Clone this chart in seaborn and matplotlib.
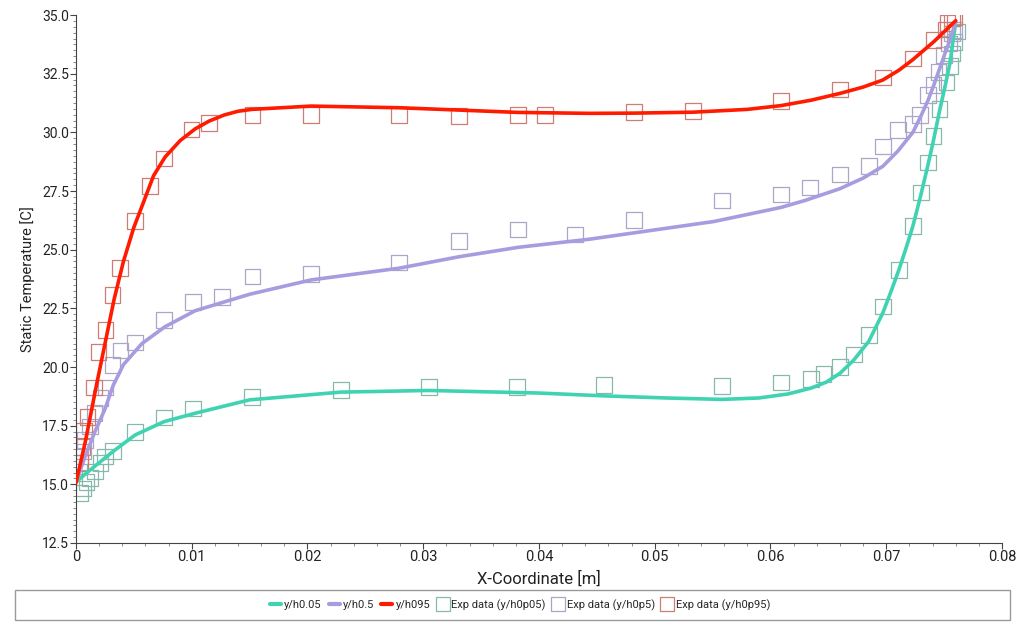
import numpy as np
import pandas as pd
import seaborn as sns
import matplotlib
matplotlib.use("Agg")
import matplotlib.pyplot as plt
from matplotlib.patches import Rectangle
from matplotlib.ticker import MultipleLocator, FuncFormatter
from matplotlib.lines import Line2D

# ---- simulation lines ----
red_x = [0, 0.0008, 0.0018, 0.0033, 0.0041, 0.0050, 0.0058, 0.0067, 0.0077, 0.0090, 0.0103, 0.0115, 0.0128,
         0.0140, 0.0152, 0.0203, 0.0279, 0.0331, 0.0382, 0.0444, 0.0482, 0.0533, 0.0580, 0.0609, 0.0635, 0.0660,
         0.0680, 0.0697, 0.0711, 0.0723, 0.0741, 0.0760]
red_y = [15.06, 16.8, 19.3, 22.9, 24.5, 25.95, 26.98, 28.15, 28.95, 29.65, 30.15, 30.48, 30.74,
         30.9, 30.98, 31.12, 31.05, 30.95, 30.85, 30.81, 30.82, 30.86, 30.98, 31.14, 31.37, 31.66,
         31.93, 32.23, 32.65, 33.1, 33.86, 34.76]

pur_x = [0, 0.0008, 0.0016, 0.0025, 0.0032, 0.0041, 0.0057, 0.0077, 0.0103, 0.0150, 0.0203, 0.0279,
         0.0331, 0.0382, 0.0444, 0.0551, 0.0609, 0.0630, 0.0660, 0.0680, 0.0697, 0.0710, 0.0723, 0.0730,
         0.0736, 0.0741, 0.0746, 0.0751, 0.0755, 0.0760]
pur_y = [15.1, 16.2, 17.2, 18.2, 19.2, 20.1, 21.0, 21.72, 22.4, 23.1, 23.71, 24.21,
         24.7, 25.1, 25.45, 26.2, 26.8, 27.1, 27.6, 28.05, 28.55, 29.2, 30.0, 30.7,
         31.35, 32.0, 32.7, 33.4, 33.93, 34.71]

teal_x = [0, 0.0012, 0.0032, 0.0051, 0.0076, 0.0103, 0.0150, 0.0229, 0.0305, 0.0400, 0.0456, 0.0510,
          0.0558, 0.0590, 0.0615, 0.0635, 0.0648, 0.0660, 0.0672, 0.0685, 0.0697, 0.0704, 0.0711, 0.0717,
          0.0723, 0.0730, 0.0736, 0.0741, 0.0746, 0.0751, 0.0755, 0.0760]
teal_y = [15.1, 15.6, 16.4, 17.1, 17.67, 18.03, 18.6, 18.93, 19.0, 18.89, 18.77, 18.68,
          18.62, 18.68, 18.85, 19.1, 19.35, 19.73, 20.3, 21.1, 22.3, 23.2, 24.15, 25.05,
          26.0, 27.35, 28.6, 29.7, 30.9, 32.0, 32.94, 34.71]

# ---- experimental data ----
exp95_x = [0.00035, 0.0005, 0.0007, 0.00098, 0.00156, 0.00196, 0.00257, 0.00317, 0.0038, 0.0051, 0.0064,
           0.0076, 0.0100, 0.01149, 0.01523, 0.0203, 0.0279, 0.0331, 0.0382, 0.0405, 0.0482, 0.0533,
           0.0609, 0.0660, 0.0697, 0.0723, 0.0741, 0.0751, 0.0753, 0.0757, 0.0759]
exp95_y = [15.91, 16.6, 17.29, 17.86, 19.13, 20.63, 21.58, 23.07, 24.21, 26.23, 27.71,
           28.89, 30.13, 30.41, 30.74, 30.74, 30.74, 30.70, 30.74, 30.73, 30.87, 30.91,
           31.34, 31.83, 32.33, 33.15, 33.93, 34.39, 34.65, 34.86, 34.9]

exp5_x = [0.00035, 0.00063, 0.00078, 0.0012, 0.00158, 0.0021, 0.00257, 0.00317, 0.00386, 0.0051, 0.0076,
          0.0101, 0.0126, 0.01523, 0.0203, 0.0279, 0.0331, 0.0382, 0.0431, 0.0482, 0.0558, 0.0609,
          0.0634, 0.0660, 0.0685, 0.0697, 0.0710, 0.0723, 0.0729, 0.0736, 0.0741, 0.0745, 0.0750,
          0.0754, 0.0757, 0.0759]
exp5_y = [16.18, 16.39, 16.89, 17.46, 18.03, 18.67, 19.13, 20.09, 20.7, 21.04, 22.0,
          22.78, 22.98, 23.85, 23.96, 24.46, 25.37, 25.87, 25.65, 26.26, 27.09, 27.36,
          27.66, 28.21, 28.57, 29.39, 30.1, 30.36, 30.74, 31.59, 32.02, 32.58, 33.3,
          33.79, 34.22, 34.36]

exp05_x = [0.00035, 0.00063, 0.00092, 0.0012, 0.00164, 0.0021, 0.0025, 0.0032, 0.0051, 0.0076, 0.0101,
           0.0152, 0.0229, 0.0305, 0.0381, 0.0456, 0.0558, 0.0609, 0.0635, 0.0646, 0.0660, 0.0672,
           0.0685, 0.0697, 0.0711, 0.0723, 0.0730, 0.0736, 0.0741, 0.0746, 0.0752, 0.0755, 0.0757,
           0.0759, 0.0761]
exp05_y = [14.62, 14.83, 15.11, 15.26, 15.54, 15.9, 16.18, 16.43, 17.22, 17.84, 18.24,
           18.72, 19.02, 19.15, 19.15, 19.23, 19.19, 19.33, 19.48, 19.7, 20.01, 20.54,
           21.36, 22.57, 24.13, 26.01, 27.43, 28.71, 29.84, 30.99, 32.12, 32.83, 33.37,
           33.86, 34.29]

line_labels = ["y/h0.05", "y/h0.5", "y/h095"]
exp_labels = ["Exp data (y/h0p05)", "Exp data (y/h0p5)", "Exp data (y/h0p95)"]

line_colors = ["#3fd3b2", "#a99be0", "#ff1a00"]
exp_colors = ["#86b9ac", "#aaa6c6", "#cd7d74"]

sns.set_theme(style="white")
plt.rcParams["font.family"] = ["Roboto", "DejaVu Sans"]

fig = plt.figure(figsize=(10.24, 6.27), dpi=100)
ax = fig.add_axes([0.0742, 0.134, 0.9043, 0.842])

lines_df = pd.concat([
    pd.DataFrame({"x": teal_x, "y": teal_y, "s": line_labels[0]}),
    pd.DataFrame({"x": pur_x, "y": pur_y, "s": line_labels[1]}),
    pd.DataFrame({"x": red_x, "y": red_y, "s": line_labels[2]}),
])
exp_df = pd.concat([
    pd.DataFrame({"x": exp05_x, "y": exp05_y, "s": exp_labels[0]}),
    pd.DataFrame({"x": exp5_x, "y": exp5_y, "s": exp_labels[1]}),
    pd.DataFrame({"x": exp95_x, "y": exp95_y, "s": exp_labels[2]}),
])

for lab, col in zip(exp_labels, exp_colors):
    d = exp_df[exp_df.s == lab]
    ax.scatter(d.x, d.y, marker="s", s=125, facecolors="none", edgecolors=col,
               linewidths=0.9, zorder=2)

sns.lineplot(data=lines_df, x="x", y="y", hue="s", palette=dict(zip(line_labels, line_colors)),
             sort=False, estimator=None, linewidth=2.6, ax=ax, legend=False, zorder=3)

ax.set_xlim(0, 0.08)
ax.set_ylim(12.5, 35)
ax.xaxis.set_major_locator(MultipleLocator(0.01))
ax.xaxis.set_minor_locator(MultipleLocator(0.002))
ax.yaxis.set_major_locator(MultipleLocator(2.5))
ax.yaxis.set_minor_locator(MultipleLocator(0.25))
ax.xaxis.set_major_formatter(FuncFormatter(lambda v, p: "0" if abs(v) < 1e-12 else f"{v:.2f}"))
ax.yaxis.set_major_formatter(FuncFormatter(lambda v, p: f"{v:.1f}"))

for side in ["top", "right"]:
    ax.spines[side].set_visible(False)
for side in ["left", "bottom"]:
    ax.spines[side].set_color("#444444")
    ax.spines[side].set_linewidth(0.8)

ax.tick_params(axis="both", which="both", bottom=True, left=True, top=False, right=False)
ax.tick_params(axis="both", which="major", direction="out", length=4, width=0.8, color="#444444",
               labelsize=10, labelcolor="#222222", pad=1)
ax.tick_params(axis="x", which="major", labelsize=10.5)
ax.tick_params(axis="both", which="minor", direction="out", length=2, width=0.6, color="#777777")

ax.set_xlabel("X-Coordinate [m]", fontsize=12, color="#222222", labelpad=5)
ax.set_ylabel("Static Temperature [C]", fontsize=10.5, color="#222222", labelpad=5)

# legend box
fig.patches.append(Rectangle((0.0146, 0.011), 0.9715, 0.048, transform=fig.transFigure,
                             fill=False, edgecolor="#9a9a9a", linewidth=1.0))
handles = [Line2D([0], [0], color=c, lw=3) for c in line_colors] + \
          [Line2D([0], [0], marker="s", linestyle="none", markersize=10, markerfacecolor="none",
                  markeredgecolor=c, markeredgewidth=0.9) for c in exp_colors]
fig.legend(handles, line_labels + exp_labels, loc="center", bbox_to_anchor=(0.508, 0.035), ncol=6,
           frameon=False, fontsize=8.0, handlelength=1.0, handletextpad=0.3, columnspacing=0.6)

fig.savefig("out.png", dpi=100)
